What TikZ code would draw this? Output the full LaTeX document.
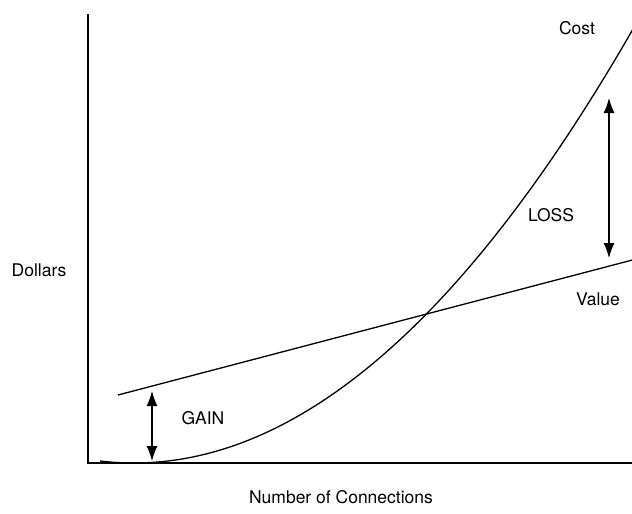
\documentclass[tikz,border=0pt]{standalone}
\usepackage{fontspec}
\setmainfont{TeX Gyre Heros}
\usetikzlibrary{arrows.meta}
\begin{document}
\begin{tikzpicture}[x=1pt,y=-1pt,
  axis/.style={line width=1.7pt, line cap=butt},
  curve/.style={line width=1.3pt},
  gap/.style={line width=1.2pt, {Latex[length=15pt,width=11pt]}-{Latex[length=15pt,width=11pt]}},
  lbl/.style={inner sep=0pt, font=\fontsize{17.5}{20}\selectfont}]
\useasboundingbox (0,0) rectangle (632,514);
\clip (0,0) rectangle (632,514);

% axes
\coordinate (origin) at (88,463);
\coordinate (ytop) at (88,14);
\coordinate (xend) at (632,463);
\draw[axis] (ytop) -- (origin) -- (xend);

% value line
\coordinate (v0) at (118,395);
\coordinate (v1) at (640,258);
\draw[curve] (v0) -- (v1);

% cost curve (parabola, vertex on the horizontal axis)
\draw[curve] plot[domain=100:640, samples=120, smooth] (\x, {463 - (0.04175*(\x-134))^2});

% gain and loss markers
\coordinate (gtop) at (152,391);
\coordinate (gbot) at (152,461);
\draw[gap] (gtop) -- (gbot);
\coordinate (ltop) at (609,98);
\coordinate (lbot) at (609,258);
\draw[gap] (ltop) -- (lbot);

% labels
\node[lbl] (gain) at (203,418) {GAIN};
\node[lbl] (loss) at (551,215) {LOSS};
\node[lbl] (cost) at (577,28) {Cost};
\node[lbl] (value) at (598,299) {Value};
\node[lbl] (dollars) at (39,270) {Dollars};
\node[lbl] (xlabel) at (341,497) {Number of Connections};
\end{tikzpicture}
\end{document}
